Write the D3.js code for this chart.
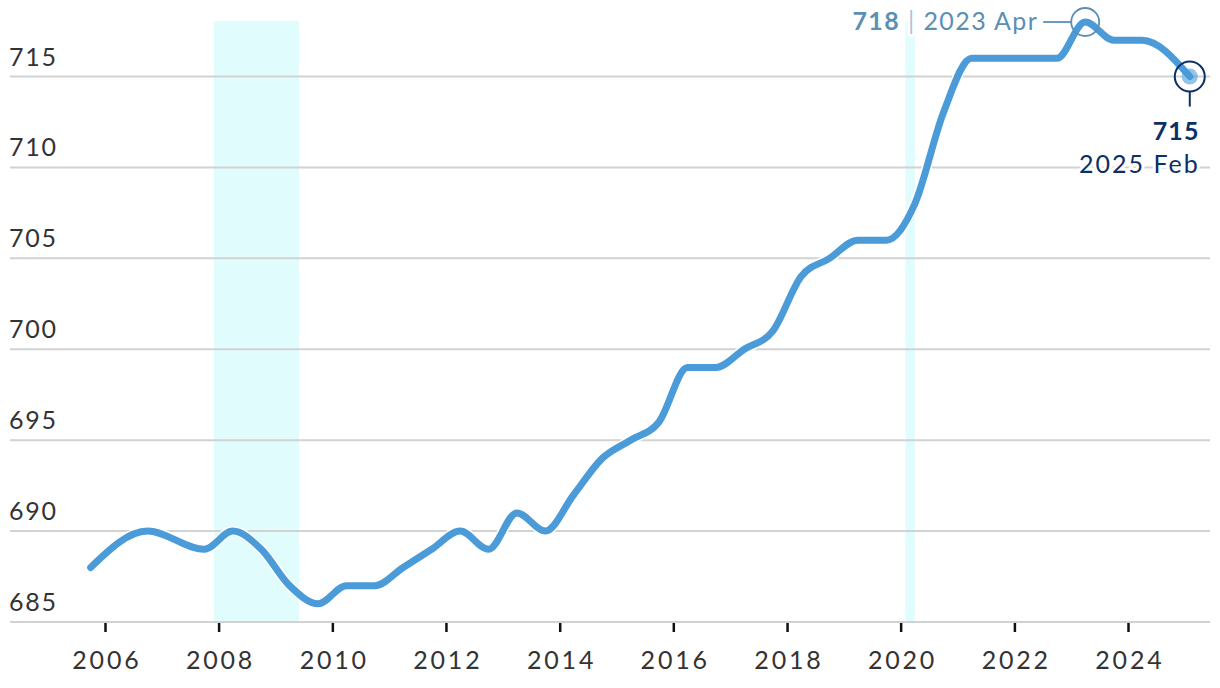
<!DOCTYPE html>
<html>
<head>
<meta charset="utf-8">
<script src="https://cdn.jsdelivr.net/npm/d3@7"></script>
<style>
   html, body { margin: 0; padding: 0; background: #fff; }
   svg { display: block; font-family: Lato, "Open Sans", sans-serif; }
</style>
</head>
<body>
<div id="chart"></div>
<script>

// SCORE DATES (YEAR, MONTH 1-12)
var dates = [
   [2005, 10], [2006, 10], [2007, 10],
   [2008, 4], [2008, 10], [2009, 4], [2009, 10],
   [2010, 4], [2010, 10], [2011, 4], [2011, 10],
   [2012, 4], [2012, 10], [2013, 4], [2013, 10],
   [2014, 4], [2014, 10], [2015, 4], [2015, 10],
   [2016, 4], [2016, 10], [2017, 4], [2017, 10],
   [2018, 4], [2018, 10], [2019, 4], [2019, 10],
   [2020, 4], [2020, 10], [2021, 4], [2021, 10],
   [2022, 4], [2022, 10], [2023, 4], [2023, 10],
   [2024, 4], [2025, 2]
];

// AVERAGE SCORE VALUES
var scores = [
   688, 690, 689,
   690, 689, 687, 686,
   687, 687, 688, 689,
   690, 689, 691, 690,
   692, 694, 695, 696,
   699, 699, 700, 701,
   704, 705, 706, 706,
   708, 713, 716, 716,
   716, 716, 718, 717,
   717, 715
];

// RECESSION PERIODS (START, END)
var recessions = [
   [[2007, 12], [2009, 6]],
   [[2020, 2], [2020, 4]]
];

// AXIS TICKS
var yTicks = [685, 690, 695, 700, 705, 710, 715];
var xTicks = [2006, 2008, 2010, 2012, 2014, 2016, 2018, 2020, 2022, 2024];

// ANNOTATIONS
var peakLabel = { index: 33, value: '718', date: '2023 Apr' };
var lastLabel = { index: 36, value: '715', date: '2025 Feb' };

// HELPERS
function toDate(pair) { return new Date(pair[0], pair[1] - 1, 1); }

var data = dates.map((d, i) => { return { date: toDate(d), value: scores[i] } });

// CANVAS
var width = 1220, height = 688;

var canvas = d3.select('#chart').append('svg')
   .attr('width', width)
   .attr('height', height)

// SCALES
var xScale = d3.scaleTime()
   .domain([new Date(2006, 0, 1), new Date(2024, 0, 1)])
   .range([105, 1128])

var yScale = d3.scaleLinear()
   .domain([685, 718])
   .range([622, 22])

// RECESSION BANDS
canvas.selectAll('rect.band')
   .data(recessions)
      .enter().append('rect')
         .attr('class', 'band')
         .attr('x', (d) => { return xScale(toDate(d[0])) })
         .attr('width', (d) => { return xScale(toDate(d[1])) - xScale(toDate(d[0])) })
         .attr('y', yScale(718) - 1)
         .attr('height', yScale(685) - yScale(718) + 1)
         .attr('fill', '#e0fcfd')

// GRIDLINES
canvas.selectAll('line.grid')
   .data(yTicks)
      .enter().append('line')
         .attr('class', 'grid')
         .attr('x1', 10)
         .attr('x2', 1210)
         .attr('y1', (d) => { return yScale(d) })
         .attr('y2', (d) => { return yScale(d) })
         .attr('stroke', '#d2d2d2')
         .attr('stroke-width', 2)

// Y LABELS
canvas.selectAll('text.ylabel')
   .data(yTicks)
      .enter().append('text')
         .attr('class', 'ylabel')
         .attr('x', 9)
         .attr('y', (d) => { return yScale(d) - 11 })
         .attr('font-size', 25)
         .attr('letter-spacing', 1.8)
         .attr('fill', '#333')
         .text((d) => { return d })

// X AXIS TICKS + LABELS
var xAxis = d3.axisBottom(xScale)
   .tickValues(xTicks.map((y) => { return new Date(y, 0, 1) }))
   .tickFormat(d3.timeFormat('%Y'))
   .tickSize(9)
   .tickPadding(19)

var xg = canvas.append('g')
   .attr('transform', 'translate(0,' + (yScale(685) + 1) + ')')
   .call(xAxis)

xg.select('.domain').remove()
xg.selectAll('.tick line').attr('stroke', '#111').attr('stroke-width', 2.5)
xg.selectAll('.tick text')
   .attr('font-family', 'Lato, "Open Sans", sans-serif')
   .attr('font-size', 25)
   .attr('letter-spacing', 2.8)
   .attr('dx', 1.4)
   .attr('fill', '#333')

// LINE GENERATOR
var pathify = d3.line()
   .x((d) => { return xScale(d.date) })
   .y((d) => { return yScale(d.value) })
   .curve(d3.curveMonotoneX)

// WHITE HALO UNDER THE LINE
canvas.append('path')
   .attr('fill', 'none')
   .attr('stroke', '#fff')
   .attr('stroke-width', 10)
   .attr('stroke-linejoin', 'round')
   .attr('d', pathify(data))

// MAIN LINE
canvas.append('path')
   .attr('fill', 'none')
   .attr('stroke', '#4a9bd8')
   .attr('stroke-width', 7)
   .attr('stroke-linecap', 'round')
   .attr('stroke-linejoin', 'round')
   .attr('d', pathify(data))

// PEAK ANNOTATION
var peak = data[peakLabel.index];
var px = xScale(peak.date), py = yScale(peak.value);
var peakColor = '#5b8fb4';

canvas.append('circle')
   .attr('cx', px)
   .attr('cy', py)
   .attr('r', 14)
   .attr('fill', 'none')
   .attr('stroke', peakColor)
   .attr('stroke-width', 1.8)

canvas.append('line')
   .attr('x1', px - 42)
   .attr('x2', px - 14)
   .attr('y1', py)
   .attr('y2', py)
   .attr('stroke', peakColor)
   .attr('stroke-width', 1.8)

var peakText = canvas.append('text')
   .attr('x', px - 47)
   .attr('y', py + 8)
   .attr('text-anchor', 'end')
   .attr('font-size', 25)
   .attr('letter-spacing', 1.4)
   .attr('fill', peakColor)
   .attr('stroke', '#fff')
   .attr('stroke-width', 6)
   .attr('paint-order', 'stroke')
   .attr('stroke-linejoin', 'round')

peakText.append('tspan').attr('font-weight', 'bold').text(peakLabel.value)
peakText.append('tspan').attr('fill', '#a9c4d8').text(' | ')
peakText.append('tspan').text(peakLabel.date)

// LAST VALUE ANNOTATION
var last = data[lastLabel.index];
var lx = xScale(last.date), ly = yScale(last.value);
var navy = '#0b2f66';

canvas.append('circle')
   .attr('cx', lx)
   .attr('cy', ly)
   .attr('r', 8)
   .attr('fill', '#4a9bd8')
   .attr('opacity', 0.6)

canvas.append('circle')
   .attr('cx', lx)
   .attr('cy', ly)
   .attr('r', 15)
   .attr('fill', 'none')
   .attr('stroke', navy)
   .attr('stroke-width', 2)

canvas.append('line')
   .attr('x1', lx)
   .attr('x2', lx)
   .attr('y1', ly + 15)
   .attr('y2', ly + 30)
   .attr('stroke', navy)
   .attr('stroke-width', 2)

canvas.append('text')
   .attr('x', lx + 10)
   .attr('y', ly + 63)
   .attr('text-anchor', 'end')
   .attr('font-size', 25)
   .attr('letter-spacing', 1.2)
   .attr('font-weight', 'bold')
   .attr('fill', navy)
   .attr('stroke', '#fff')
   .attr('stroke-width', 6)
   .attr('paint-order', 'stroke')
   .text(lastLabel.value)

canvas.append('text')
   .attr('x', lx + 10)
   .attr('y', ly + 96)
   .attr('text-anchor', 'end')
   .attr('font-size', 25)
   .attr('letter-spacing', 2)
   .attr('fill', navy)
   .attr('stroke', '#fff')
   .attr('stroke-width', 6)
   .attr('paint-order', 'stroke')
   .text(lastLabel.date)

</script>
</body>
</html>
